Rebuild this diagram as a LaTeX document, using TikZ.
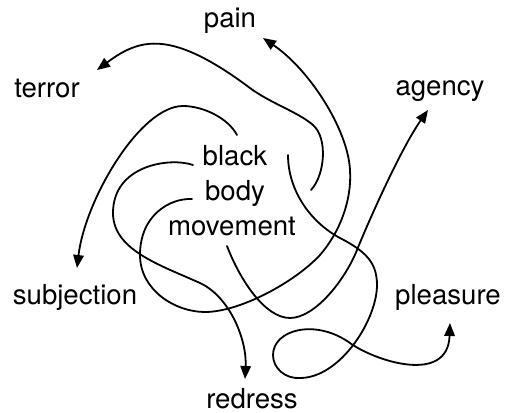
\documentclass[tikz,border=0pt]{standalone}
\usepackage{fontspec}
\setmainfont{TeX Gyre Heros}
\usetikzlibrary{arrows.meta}

\begin{document}
\begin{tikzpicture}[x=1pt,y=1pt,yscale=-1,xscale=1,
    word/.style={anchor=base,inner sep=0.75pt,font=\fontsize{27.6}{33}\selectfont},
    strand/.style={line width=1.8pt,line cap=round},
    tip/.style={-{Triangle[length=13pt,width=10.5pt]}}]
    \useasboundingbox (0,0) rectangle (507,413);

    % Text Node
    \node [word] (black) at (235,165) {black};
    % Text Node
    \node [word] (body) at (235,200) {body};
    % Text Node
    \node [word] (movement) at (232,235) {movement};
    % Text Node
    \node [word] (pain) at (230,27) {pain};
    % Text Node
    \node [word] (terror) at (47,97) {terror};
    % Text Node
    \node [word] (agency) at (440,95) {agency};
    % Text Node
    \node [word] (subjection) at (75,304) {subjection};
    % Text Node
    \node [word] (pleasure) at (448,304) {pleasure};
    % Text Node
    \node [word] (redress) at (252,408) {redress};

    % loose ends near the centre, tips near the words
    \coordinate (subjStart) at (237,135);
    \coordinate (subjTip) at (77,268);
    \coordinate (redrStart) at (193,165);
    \coordinate (redrTip) at (245,379);
    \coordinate (painStart) at (192,199);
    \coordinate (painTip) at (263,38);
    \coordinate (agenStart) at (227,246);
    \coordinate (agenTip) at (428,110);
    \coordinate (terrStart) at (311,190);
    \coordinate (terrTip) at (97,70);
    \coordinate (pleaStart) at (288,155);
    \coordinate (pleaTip) at (450,323);

    %Curve: to subjection
    \draw [strand,tip] (subjStart) .. controls (228,118) and (203,106) .. (183,106) .. controls (140,106) and (85,200) .. (subjTip);
    %Curve: to redress
    \draw [strand,tip] (redrStart) .. controls (170,157) and (113,165) .. (113,213) .. controls (113,250) and (160,265) .. (200,283) .. controls (230,297) and (247,340) .. (redrTip);
    %Curve: to pain
    \draw [strand,tip] (painStart) .. controls (170,198) and (140,215) .. (140,255) .. controls (140,290) and (175,312) .. (205,312) .. controls (240,312) and (295,282) .. (320,255) .. controls (340,232) and (352,200) .. (350,170) .. controls (348,130) and (310,70) .. (painTip);
    %Curve: to agency
    \draw [strand,tip] (agenStart) .. controls (240,280) and (265,318) .. (290,318) .. controls (315,318) and (345,280) .. (357,250) .. controls (367,225) and (400,150) .. (agenTip);
    %Curve: to terror
    \draw [strand,tip] (terrStart) .. controls (325,175) and (328,138) .. (313,125) .. controls (298,112) and (270,103) .. (250,88) .. controls (171,29) and (140,38) .. (terrTip);
    %Curve: to pleasure
    \draw [strand,tip] (pleaStart) .. controls (288,190) and (310,222) .. (340,238) .. controls (365,251) and (377,262) .. (377,285) .. controls (377,320) and (340,378) .. (300,378) .. controls (285,379) and (273,368) .. (273,355) .. controls (273,330) and (315,318) .. (350,343) .. controls (375,361) and (448,385) .. (pleaTip);

\end{tikzpicture}
\end{document}
